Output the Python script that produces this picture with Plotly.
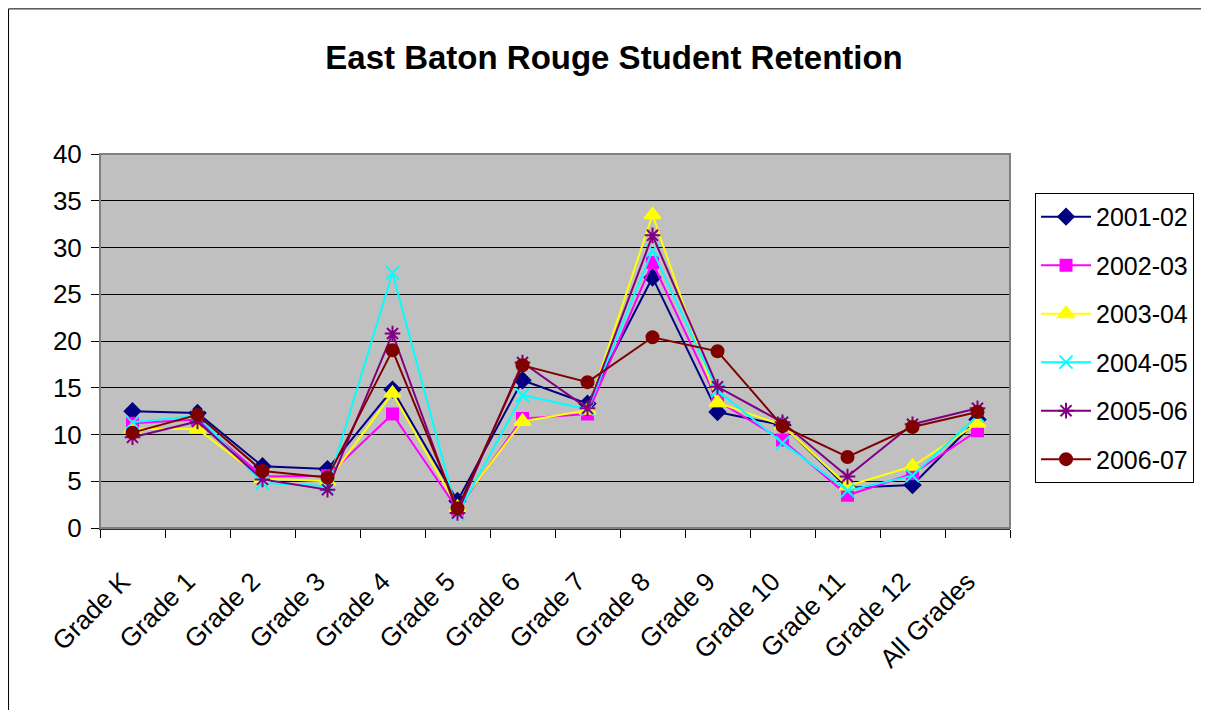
import plotly.graph_objects as go

categories = ["Grade K", "Grade 1", "Grade 2", "Grade 3", "Grade 4", "Grade 5", "Grade 6",
              "Grade 7", "Grade 8", "Grade 9", "Grade 10", "Grade 11", "Grade 12", "All Grades"]

s2001_02 = [12.5, 12.3, 6.6, 6.3, 14.8, 2.9, 15.8, 13.3, 26.8, 12.4, 11.0, 4.3, 4.6, 11.6]
s2002_03 = [11.2, 11.6, 5.5, 5.6, 12.2, 2.0, 11.7, 12.2, 28.4, 13.6, 9.4, 3.5, 5.8, 10.4]
s2003_04 = [10.6, 10.6, 5.3, 5.0, 14.4, 2.2, 11.4, 12.6, 33.5, 13.4, 11.0, 4.5, 6.6, 11.2]
s2004_05 = [11.3, 12.0, 4.8, 4.5, 27.3, 1.5, 14.2, 12.7, 29.7, 14.7, 9.1, 4.0, 5.6, 12.0]
s2005_06 = [9.7, 11.4, 5.2, 4.1, 20.8, 1.6, 17.7, 12.8, 31.3, 15.1, 11.3, 5.5, 11.1, 12.8]
s2006_07 = [10.2, 12.1, 6.1, 5.4, 19.0, 2.1, 17.4, 15.6, 20.4, 18.9, 10.9, 7.6, 10.8, 12.4]

series_names = ["2001-02", "2002-03", "2003-04", "2004-05", "2005-06", "2006-07"]
series_values = [s2001_02, s2002_03, s2003_04, s2004_05, s2005_06, s2006_07]
colors = ["#000080", "#FF00FF", "#FFFF00", "#00FFFF", "#800080", "#800000"]
symbols = ["diamond", "square", "triangle-up", "x-thin-open", "asterisk-open", "circle"]
sizes = [12, 11, 14, 13, 13, 12]

fig = go.Figure()
for name, vals, c, sym, sz in zip(series_names, series_values, colors, symbols, sizes):
    fig.add_trace(go.Scatter(
        x=categories, y=vals, name=name, mode="lines+markers", legendgroup=name,
        line=dict(color=c, width=2),
        marker=dict(symbol=sym, size=sz, color=c, line=dict(color=c, width=2)),
    ))

fig.update_layout(
    width=1201, height=702,
    paper_bgcolor="white", plot_bgcolor="#C0C0C0",
    margin=dict(l=92, r=199, t=146, b=182, autoexpand=False),
    font=dict(family="Arial, Liberation Sans, sans-serif", size=26, color="black"),
    title=dict(text="<b>East Baton Rouge Student Retention</b>", x=0.5046, xanchor="center",
               y=0.930, yanchor="middle", font=dict(size=33)),
    showlegend=True,
    legend=dict(x=1.0275, xanchor="left", y=0.896, yanchor="top",
                bordercolor="black", borderwidth=1, bgcolor="white",
                font=dict(size=25), itemsizing="trace", tracegroupgap=13,
                itemwidth=50),
    xaxis=dict(type="category", showgrid=False, showline=True, linecolor="#333333", linewidth=2,
               ticks="outside", tickson="boundaries", ticklen=8, tickcolor="black",
               tickangle=-45, mirror=False, range=[-0.5, 13.5], ticklabelstandoff=26,
               ticklabelshift=-10),
    yaxis=dict(range=[0, 40], dtick=5, showgrid=True, gridcolor="black", gridwidth=1,
               showline=True, linecolor="black", linewidth=1, ticks="outside", ticklen=8,
               tickcolor="black", zeroline=False, ticklabelstandoff=4),
    shapes=[
        dict(type="rect", xref="paper", yref="paper", x0=0, x1=1, y0=0, y1=1,
             line=dict(color="#808080", width=2), layer="above"),
        dict(type="rect", xref="paper", yref="paper", x0=-0.1005, x1=1.25, y0=-0.6, y1=1.388,
             line=dict(color="black", width=1)),
    ],
)
fig.write_html("out.html")
